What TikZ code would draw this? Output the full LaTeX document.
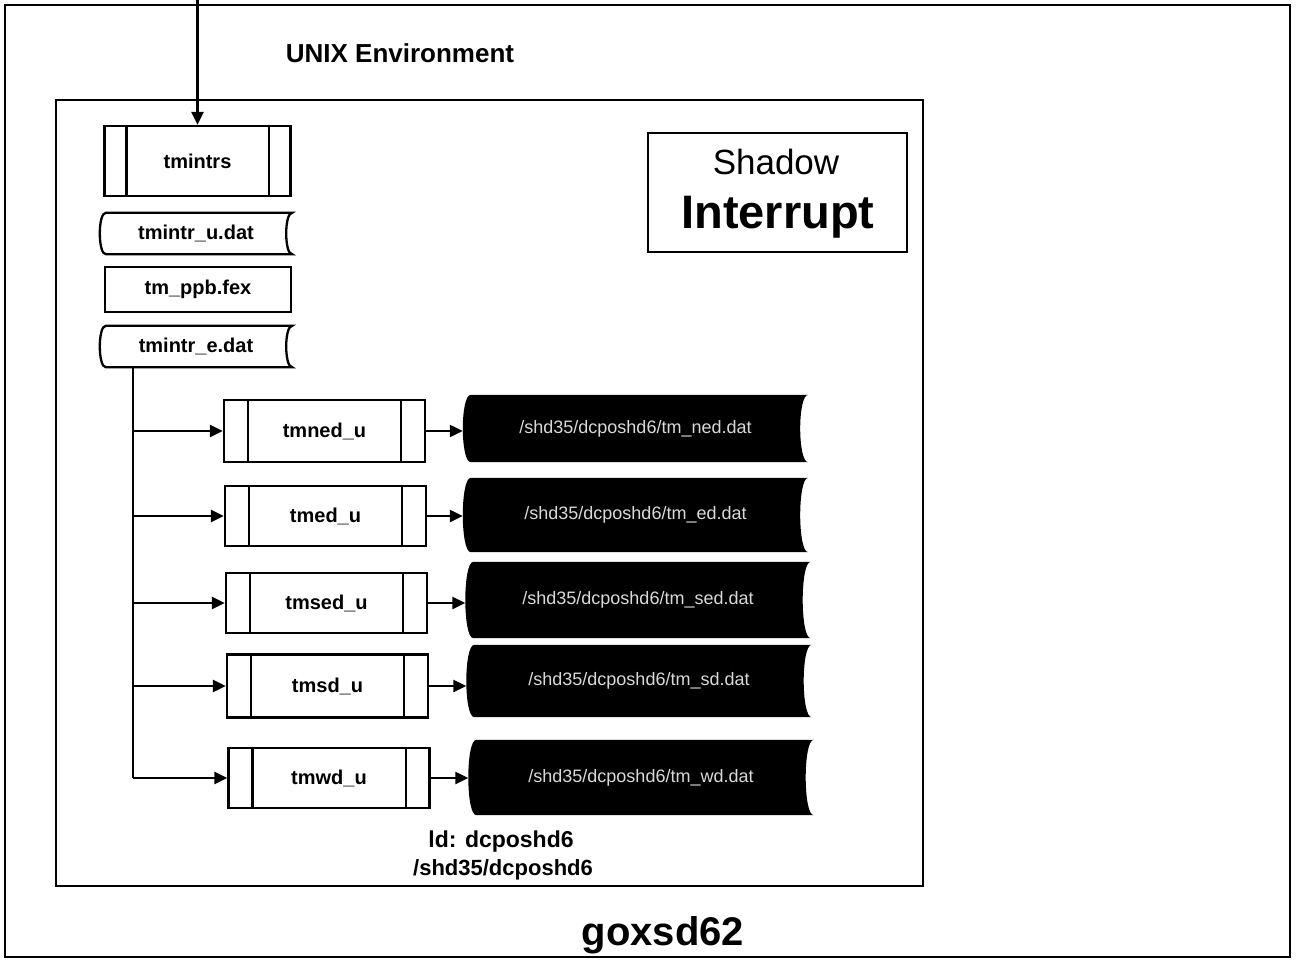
\documentclass[tikz,border=0pt]{standalone}
\usepackage{fontspec}
\setmainfont{Liberation Sans}
\usetikzlibrary{arrows.meta}

% stored-data outline around a node: convex left side, concave right side
\newcommand\storedoutline[3]{%
  \path[#3] ([xshift=#2]#1.north west)
    .. controls ([xshift=-#2/3]#1.north west) and ([xshift=-#2/3]#1.south west) .. ([xshift=#2]#1.south west)
    -- (#1.south east)
    .. controls ([xshift=-4*#2/3]#1.south east) and ([xshift=-4*#2/3]#1.north east) .. (#1.north east)
    -- cycle;}
% predefined-process side bars
\newcommand\sidebars[2]{%
  \draw[boxline] ([xshift=#2]#1.north west) -- ([xshift=#2]#1.south west)
                 ([xshift=-#2]#1.north east) -- ([xshift=-#2]#1.south east);}

\tikzset{
  boxline/.style={line width=2.3pt},
  flow/.style={line width=2.3pt, -{Triangle[length=13pt,width=12pt]}},
  lbl/.style={font=\fontsize{20}{24}\selectfont\bfseries},
  procbox/.style={draw, boxline, inner sep=0pt, lbl},
  filebox/.style={inner sep=0pt, lbl},
  darkfile/.style={inner sep=0pt, minimum width=345pt},
  darktext/.style={font=\fontsize{18}{22}\selectfont, text=gray!30},
}

\begin{document}
\begin{tikzpicture}[x=1pt, y=-1pt]
\useasboundingbox (0,0) rectangle (1303,960);

% frames
\node[draw, line width=2.6pt, minimum width=1285pt, minimum height=952pt, inner sep=0pt] (unixenv) at (647.5,481) {};
\node[draw, line width=2.6pt, minimum width=867pt, minimum height=786pt, inner sep=0pt] (host) at (489.5,493) {};
\node[font=\fontsize{26}{30}\selectfont\bfseries, anchor=base] (envtitle) at (400,63) {UNIX Environment};

% title box
\node[draw, boxline, minimum width=259pt, minimum height=119pt, inner sep=0pt] (titlebox) at (777.5,192.5) {};
\node[font=\fontsize{35}{40}\selectfont, anchor=base] (shadowtxt) at (776,175) {Shadow};
\node[font=\fontsize{47}{52}\selectfont\bfseries, anchor=base] (interrupttxt) at (778,228) {Interrupt};

% driver and its files
\node[procbox, minimum width=186pt, minimum height=70pt] (tmintrs) at (197.5,161) {tmintrs};
\sidebars{tmintrs}{23pt}
\coordinate (feed) at (197.5,0);
\draw[flow] (feed) -- (tmintrs.north);

\node[filebox, minimum width=192pt, minimum height=41pt] (fu) at (196,233.5) {tmintr\_u.dat};
\storedoutline{fu}{6pt}{draw, boxline}
\node[procbox, minimum width=186pt, minimum height=45pt] (fex) at (198,289.5) {tm\_ppb.fex};
\node[filebox, minimum width=192pt, minimum height=41pt] (fe) at (196,346.5) {tmintr\_e.dat};
\storedoutline{fe}{6pt}{draw, boxline}

% shadow jobs
\node[procbox, minimum width=201pt, minimum height=62pt] (p1) at (324.5,431) {tmned\_u};
\node[procbox, minimum width=201pt, minimum height=60pt] (p2) at (325.5,516) {tmed\_u};
\node[procbox, minimum width=201pt, minimum height=60pt] (p3) at (326.5,603) {tmsed\_u};
\node[procbox, minimum width=201pt, minimum height=63pt] (p4) at (327.5,686) {tmsd\_u};
\node[procbox, minimum width=201pt, minimum height=60pt] (p5) at (329,778) {tmwd\_u};
\foreach \i in {1,...,5} {\sidebars{p\i}{25pt}}

% target files
\node[darkfile, minimum height=67pt] (d1) at (635.5,428.5) {};
\node[darkfile, minimum height=74pt] (d2) at (635.5,515) {};
\node[darkfile, minimum height=76pt] (d3) at (638,600) {};
\node[darkfile, minimum height=72pt] (d4) at (639,681) {};
\node[darkfile, minimum height=75pt] (d5) at (641,777.5) {};
\foreach \i in {1,...,5} {\storedoutline{d\i}{8pt}{fill=black}}
\node[darktext] (t1) at (d1) {/shd35/dcposhd6/tm\_ned.dat};
\node[darktext] (t2) at (d2) {/shd35/dcposhd6/tm\_ed.dat};
\node[darktext] (t3) at (d3) {/shd35/dcposhd6/tm\_sed.dat};
\node[darktext] (t4) at (d4) {/shd35/dcposhd6/tm\_sd.dat};
\node[darktext] (t5) at (d5) {/shd35/dcposhd6/tm\_wd.dat};

% fan-out from the error file
\coordinate (trunk) at (133,400);
\draw[boxline] (fe.south -| trunk) -- (trunk |- p5.west);
\foreach \i in {1,...,5} {
  \draw[flow] (trunk |- p\i.west) -- (p\i.west);
  \draw[flow] (p\i.east) -- (p\i.east -| d\i.west);
}

% host labels
\node[font=\fontsize{23}{26}\selectfont\bfseries, anchor=base] (hostid) at (501,847) {ld: dcposhd6};
\node[font=\fontsize{22}{26}\selectfont\bfseries, anchor=base] (hostpath) at (503,875) {/shd35/dcposhd6};
\node[font=\fontsize{40}{46}\selectfont\bfseries, anchor=base] (machine) at (663,945) {goxsd62};
\end{tikzpicture}
\end{document}
